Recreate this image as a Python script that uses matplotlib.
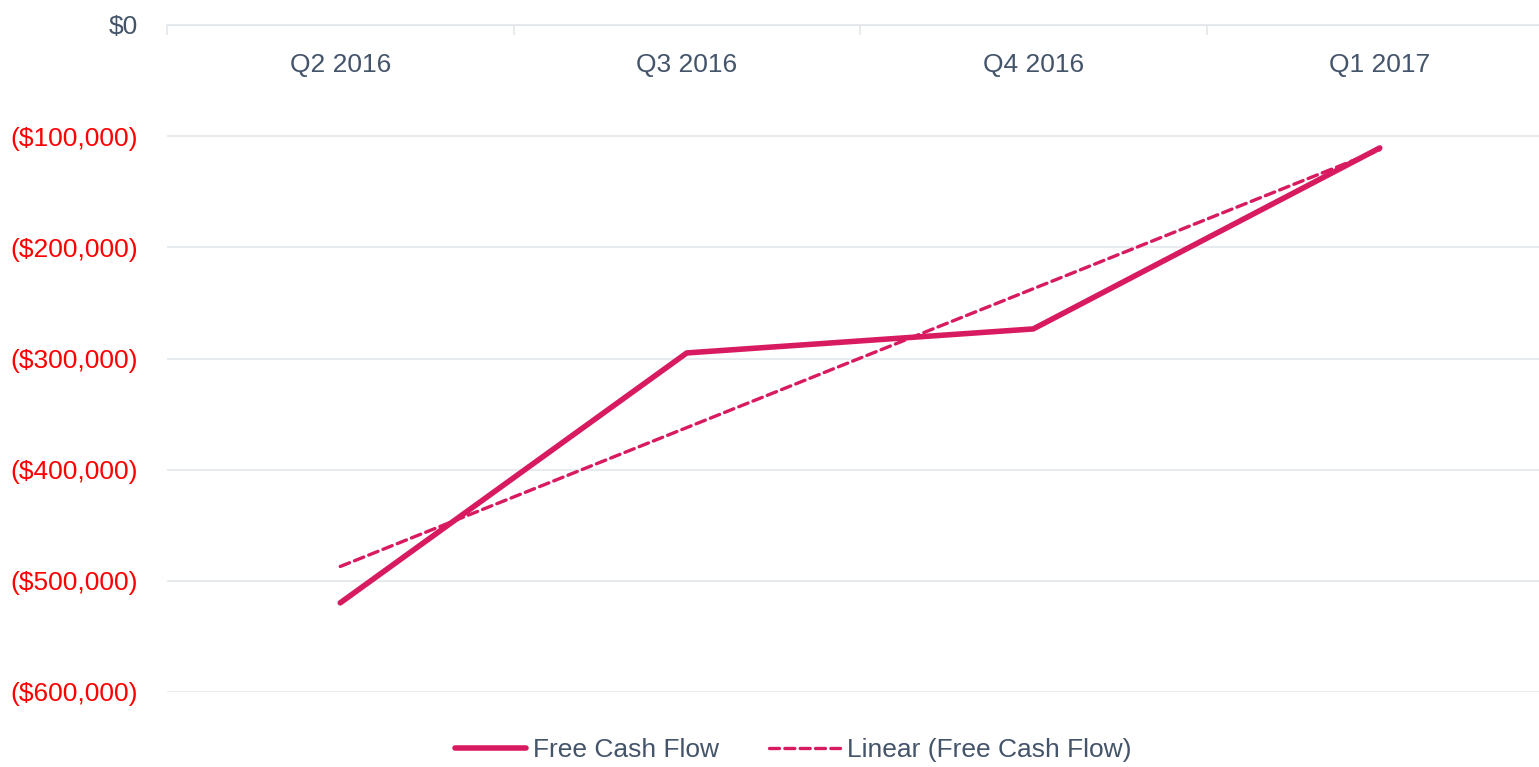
import numpy as np
import matplotlib.pyplot as plt
from matplotlib.ticker import FuncFormatter

# Chart data
quarters = ['Q2 2016', 'Q3 2016', 'Q4 2016', 'Q1 2017']
free_cash_flow = [-519800, -295000, -273400, -110600]
y_ticks = [0, -100000, -200000, -300000, -400000, -500000, -600000]

LINE_COLOR = '#D81B60'
TEXT_GRAY = '#44546A'
GRID_COLOR = '#E1E5EA'

plt.rcParams['font.family'] = ['Liberation Sans', 'DejaVu Sans']


def money(v, pos=None):
    if v < 0:
        return '(${:,.0f})'.format(-v)
    return '${:,.0f}'.format(v)


fig = plt.figure(figsize=(15.39, 7.67), dpi=100)
ax = fig.add_axes([167 / 1539, 1 - 692 / 767, 1386 / 1539, 667 / 767])

x = np.arange(len(quarters))
ax.plot(x, free_cash_flow, color=LINE_COLOR, lw=4.0, solid_capstyle='round',
        solid_joinstyle='round', label='Free Cash Flow', zorder=3)

# linear trendline (least squares fit, like Excel)
slope, intercept = np.polyfit(x, free_cash_flow, 1)
ax.plot(x, slope * x + intercept, color=LINE_COLOR, lw=2.4,
        dashes=(3.0, 1.6), dash_capstyle='round',
        label='Linear (Free Cash Flow)', zorder=2)

ax.set_xlim(-0.5, len(quarters) - 0.5)
ax.set_ylim(-600000, 0)

# y axis
ax.set_yticks(y_ticks)
ax.yaxis.set_major_formatter(FuncFormatter(money))
ax.tick_params(axis='y', length=0, pad=21, labelsize=19)
for lbl, v in zip(ax.get_yticklabels(), y_ticks):
    lbl.set_color('#FF0000' if v < 0 else TEXT_GRAY)
ax.grid(axis='y', color=GRID_COLOR, lw=1.1)
ax.set_axisbelow(True)

# category axis sits at $0 (top)
for s in ['left', 'right', 'bottom']:
    ax.spines[s].set_visible(False)
ax.spines['top'].set_color(GRID_COLOR)
ax.spines['top'].set_linewidth(1.1)
ax.xaxis.tick_top()
ax.set_xticks([])
ax.set_xticks(np.arange(len(quarters) + 1) - 0.5, minor=True)
ax.tick_params(axis='x', which='minor', direction='in', length=7,
               color=GRID_COLOR, width=1.1, labeltop=False)
for i, q in enumerate(quarters):
    ax.text(i, -36000, q, ha='center', va='center', fontsize=19,
            color=TEXT_GRAY)

fig.legend(loc='center', bbox_to_anchor=(793 / 1539, 1 - 750 / 767),
           ncol=2, frameon=False, fontsize=19, labelcolor=TEXT_GRAY,
           handlelength=2.7, handletextpad=0.25, columnspacing=1.9)

fig.savefig('out.png', dpi=100)
